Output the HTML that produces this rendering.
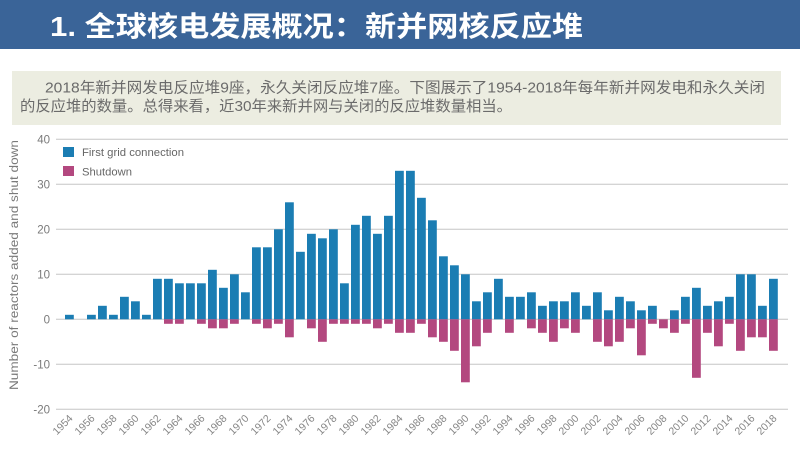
<!DOCTYPE html>
<html>
<head>
<meta charset="utf-8">
<style>
html,body{margin:0;padding:0;background:#fff;}
svg{display:block;}
text{font-family:"Liberation Sans","Noto Sans CJK SC",sans-serif;}
</style>
</head>
<body>
<svg width="800" height="450" viewBox="0 0 800 450" xmlns="http://www.w3.org/2000/svg">
<rect x="0" y="0" width="800" height="450" fill="#ffffff"/>
<!-- header -->
<rect x="0" y="0" width="800" height="49" fill="#3a6498"/>
<text x="50" y="36" font-size="28" font-weight="bold" fill="#ffffff" textLength="533" lengthAdjust="spacingAndGlyphs">1. 全球核电发展概况：新并网核反应堆</text>
<!-- text box -->
<rect x="12" y="71" width="769" height="54" fill="#ecede1"/>
<text x="45" y="92.5" font-size="15" fill="#6b6b6b" textLength="720" lengthAdjust="spacingAndGlyphs">2018年新并网发电反应堆9座，永久关闭反应堆7座。下图展示了1954-2018年每年新并网发电和永久关闭</text>
<text x="20" y="111" font-size="15" fill="#6b6b6b" textLength="492" lengthAdjust="spacingAndGlyphs">的反应堆的数量。总得来看，近30年来新并网与关闭的反应堆数量相当。</text>

<!-- gridlines -->
<g stroke="#c6c6c6" stroke-width="1">
<line x1="56" x2="788" y1="139.3" y2="139.3"/>
<line x1="56" x2="788" y1="184.3" y2="184.3"/>
<line x1="56" x2="788" y1="229.3" y2="229.3"/>
<line x1="56" x2="788" y1="274.3" y2="274.3"/>
<line x1="56" x2="788" y1="319.3" y2="319.3"/>
<line x1="56" x2="788" y1="364.3" y2="364.3"/>
<line x1="56" x2="788" y1="409.3" y2="409.3"/>
</g>
<!-- y tick labels -->
<g font-size="11.5" fill="#7a7a7a" text-anchor="end">
<text x="50" y="143.3">40</text>
<text x="50" y="188.3">30</text>
<text x="50" y="233.3">20</text>
<text x="50" y="278.3">10</text>
<text x="50" y="323.3">0</text>
<text x="50" y="368.3">-10</text>
<text x="50" y="413.3">-20</text>
</g>
<!-- y axis title -->
<text transform="translate(18,265) rotate(-90)" font-size="11.5" fill="#7a7a7a" text-anchor="middle" textLength="250" lengthAdjust="spacingAndGlyphs">Number of reactors added and shut down</text>

<!-- bars -->
<g transform="translate(0 319.3) scale(1 -4.5)">
<g fill="#1b7db3">
<rect x="65" y="0" width="8.8" height="1"/>
<rect x="87" y="0" width="8.8" height="1"/>
<rect x="98" y="0" width="8.8" height="3"/>
<rect x="109" y="0" width="8.8" height="1"/>
<rect x="120" y="0" width="8.8" height="5"/>
<rect x="131" y="0" width="8.8" height="4"/>
<rect x="142" y="0" width="8.8" height="1"/>
<rect x="153" y="0" width="8.8" height="9"/>
<rect x="164" y="0" width="8.8" height="9"/>
<rect x="175" y="0" width="8.8" height="8"/>
<rect x="186" y="0" width="8.8" height="8"/>
<rect x="197" y="0" width="8.8" height="8"/>
<rect x="208" y="0" width="8.8" height="11"/>
<rect x="219" y="0" width="8.8" height="7"/>
<rect x="230" y="0" width="8.8" height="10"/>
<rect x="241" y="0" width="8.8" height="6"/>
<rect x="252" y="0" width="8.8" height="16"/>
<rect x="263" y="0" width="8.8" height="16"/>
<rect x="274" y="0" width="8.8" height="20"/>
<rect x="285" y="0" width="8.8" height="26"/>
<rect x="296" y="0" width="8.8" height="15"/>
<rect x="307" y="0" width="8.8" height="19"/>
<rect x="318" y="0" width="8.8" height="18"/>
<rect x="329" y="0" width="8.8" height="20"/>
<rect x="340" y="0" width="8.8" height="8"/>
<rect x="351" y="0" width="8.8" height="21"/>
<rect x="362" y="0" width="8.8" height="23"/>
<rect x="373" y="0" width="8.8" height="19"/>
<rect x="384" y="0" width="8.8" height="23"/>
<rect x="395" y="0" width="8.8" height="33"/>
<rect x="406" y="0" width="8.8" height="33"/>
<rect x="417" y="0" width="8.8" height="27"/>
<rect x="428" y="0" width="8.8" height="22"/>
<rect x="439" y="0" width="8.8" height="14"/>
<rect x="450" y="0" width="8.8" height="12"/>
<rect x="461" y="0" width="8.8" height="10"/>
<rect x="472" y="0" width="8.8" height="4"/>
<rect x="483" y="0" width="8.8" height="6"/>
<rect x="494" y="0" width="8.8" height="9"/>
<rect x="505" y="0" width="8.8" height="5"/>
<rect x="516" y="0" width="8.8" height="5"/>
<rect x="527" y="0" width="8.8" height="6"/>
<rect x="538" y="0" width="8.8" height="3"/>
<rect x="549" y="0" width="8.8" height="4"/>
<rect x="560" y="0" width="8.8" height="4"/>
<rect x="571" y="0" width="8.8" height="6"/>
<rect x="582" y="0" width="8.8" height="3"/>
<rect x="593" y="0" width="8.8" height="6"/>
<rect x="604" y="0" width="8.8" height="2"/>
<rect x="615" y="0" width="8.8" height="5"/>
<rect x="626" y="0" width="8.8" height="4"/>
<rect x="637" y="0" width="8.8" height="2"/>
<rect x="648" y="0" width="8.8" height="3"/>
<rect x="670" y="0" width="8.8" height="2"/>
<rect x="681" y="0" width="8.8" height="5"/>
<rect x="692" y="0" width="8.8" height="7"/>
<rect x="703" y="0" width="8.8" height="3"/>
<rect x="714" y="0" width="8.8" height="4"/>
<rect x="725" y="0" width="8.8" height="5"/>
<rect x="736" y="0" width="8.8" height="10"/>
<rect x="747" y="0" width="8.8" height="10"/>
<rect x="758" y="0" width="8.8" height="3"/>
<rect x="769" y="0" width="8.8" height="9"/>
</g>
<g fill="#b3487f">
<rect x="164" y="-1" width="8.8" height="1"/>
<rect x="175" y="-1" width="8.8" height="1"/>
<rect x="197" y="-1" width="8.8" height="1"/>
<rect x="208" y="-2" width="8.8" height="2"/>
<rect x="219" y="-2" width="8.8" height="2"/>
<rect x="230" y="-1" width="8.8" height="1"/>
<rect x="252" y="-1" width="8.8" height="1"/>
<rect x="263" y="-2" width="8.8" height="2"/>
<rect x="274" y="-1" width="8.8" height="1"/>
<rect x="285" y="-4" width="8.8" height="4"/>
<rect x="307" y="-2" width="8.8" height="2"/>
<rect x="318" y="-5" width="8.8" height="5"/>
<rect x="329" y="-1" width="8.8" height="1"/>
<rect x="340" y="-1" width="8.8" height="1"/>
<rect x="351" y="-1" width="8.8" height="1"/>
<rect x="362" y="-1" width="8.8" height="1"/>
<rect x="373" y="-2" width="8.8" height="2"/>
<rect x="384" y="-1" width="8.8" height="1"/>
<rect x="395" y="-3" width="8.8" height="3"/>
<rect x="406" y="-3" width="8.8" height="3"/>
<rect x="417" y="-1" width="8.8" height="1"/>
<rect x="428" y="-4" width="8.8" height="4"/>
<rect x="439" y="-5" width="8.8" height="5"/>
<rect x="450" y="-7" width="8.8" height="7"/>
<rect x="461" y="-14" width="8.8" height="14"/>
<rect x="472" y="-6" width="8.8" height="6"/>
<rect x="483" y="-3" width="8.8" height="3"/>
<rect x="505" y="-3" width="8.8" height="3"/>
<rect x="527" y="-2" width="8.8" height="2"/>
<rect x="538" y="-3" width="8.8" height="3"/>
<rect x="549" y="-5" width="8.8" height="5"/>
<rect x="560" y="-2" width="8.8" height="2"/>
<rect x="571" y="-3" width="8.8" height="3"/>
<rect x="593" y="-5" width="8.8" height="5"/>
<rect x="604" y="-6" width="8.8" height="6"/>
<rect x="615" y="-5" width="8.8" height="5"/>
<rect x="626" y="-2" width="8.8" height="2"/>
<rect x="637" y="-8" width="8.8" height="8"/>
<rect x="648" y="-1" width="8.8" height="1"/>
<rect x="659" y="-2" width="8.8" height="2"/>
<rect x="670" y="-3" width="8.8" height="3"/>
<rect x="681" y="-1" width="8.8" height="1"/>
<rect x="692" y="-13" width="8.8" height="13"/>
<rect x="703" y="-3" width="8.8" height="3"/>
<rect x="714" y="-6" width="8.8" height="6"/>
<rect x="725" y="-1" width="8.8" height="1"/>
<rect x="736" y="-7" width="8.8" height="7"/>
<rect x="747" y="-4" width="8.8" height="4"/>
<rect x="758" y="-4" width="8.8" height="4"/>
<rect x="769" y="-7" width="8.8" height="7"/>
</g>
</g>

<!-- legend -->
<rect x="63" y="147" width="11" height="10" fill="#1b7db3"/>
<text x="82" y="156" font-size="11" fill="#666" textLength="102" lengthAdjust="spacingAndGlyphs">First grid connection</text>
<rect x="63" y="166" width="11" height="10" fill="#b3487f"/>
<text x="82" y="175.5" font-size="11" fill="#666" textLength="50" lengthAdjust="spacingAndGlyphs">Shutdown</text>

<!-- x labels -->
<g font-size="10.5" fill="#858585" text-anchor="end">
<text transform="translate(73.4,419) rotate(-45)">1954</text>
<text transform="translate(95.4,419) rotate(-45)">1956</text>
<text transform="translate(117.4,419) rotate(-45)">1958</text>
<text transform="translate(139.4,419) rotate(-45)">1960</text>
<text transform="translate(161.4,419) rotate(-45)">1962</text>
<text transform="translate(183.4,419) rotate(-45)">1964</text>
<text transform="translate(205.4,419) rotate(-45)">1966</text>
<text transform="translate(227.4,419) rotate(-45)">1968</text>
<text transform="translate(249.4,419) rotate(-45)">1970</text>
<text transform="translate(271.4,419) rotate(-45)">1972</text>
<text transform="translate(293.4,419) rotate(-45)">1974</text>
<text transform="translate(315.4,419) rotate(-45)">1976</text>
<text transform="translate(337.4,419) rotate(-45)">1978</text>
<text transform="translate(359.4,419) rotate(-45)">1980</text>
<text transform="translate(381.4,419) rotate(-45)">1982</text>
<text transform="translate(403.4,419) rotate(-45)">1984</text>
<text transform="translate(425.4,419) rotate(-45)">1986</text>
<text transform="translate(447.4,419) rotate(-45)">1988</text>
<text transform="translate(469.4,419) rotate(-45)">1990</text>
<text transform="translate(491.4,419) rotate(-45)">1992</text>
<text transform="translate(513.4,419) rotate(-45)">1994</text>
<text transform="translate(535.4,419) rotate(-45)">1996</text>
<text transform="translate(557.4,419) rotate(-45)">1998</text>
<text transform="translate(579.4,419) rotate(-45)">2000</text>
<text transform="translate(601.4,419) rotate(-45)">2002</text>
<text transform="translate(623.4,419) rotate(-45)">2004</text>
<text transform="translate(645.4,419) rotate(-45)">2006</text>
<text transform="translate(667.4,419) rotate(-45)">2008</text>
<text transform="translate(689.4,419) rotate(-45)">2010</text>
<text transform="translate(711.4,419) rotate(-45)">2012</text>
<text transform="translate(733.4,419) rotate(-45)">2014</text>
<text transform="translate(755.4,419) rotate(-45)">2016</text>
<text transform="translate(777.4,419) rotate(-45)">2018</text>
</g>
</svg>
</body>
</html>
